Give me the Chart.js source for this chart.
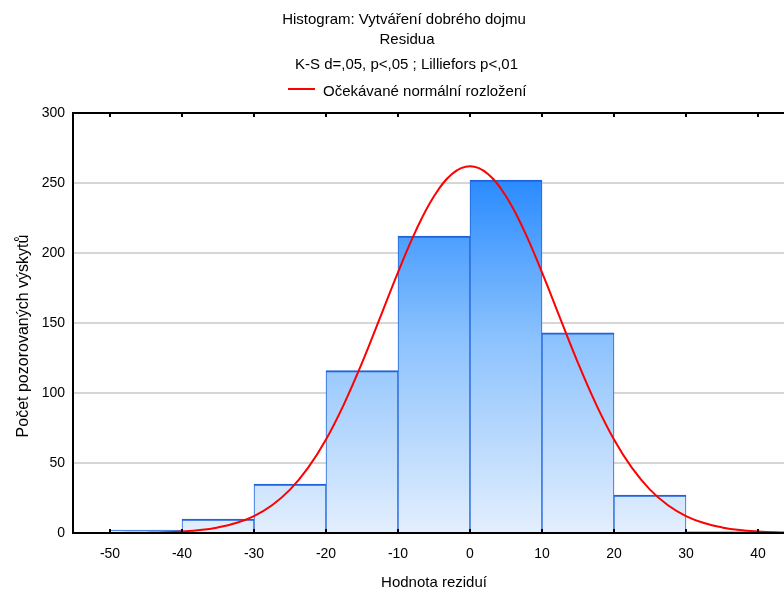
<!DOCTYPE html>
<html><head><meta charset="utf-8">
<script src="https://cdn.jsdelivr.net/npm/chart.js@4/dist/chart.umd.min.js"></script>
<style>html,body{margin:0;padding:0;overflow:hidden;background:#fff}#wrap{width:800px;height:592px}</style>
</head><body><div id="wrap"><canvas id="c" width="800" height="592"></canvas></div>
<script>
const titleLines = ['Histogram: Vytváření dobrého dojmu', 'Residua'];
const subtitleText = 'K-S d=,05, p<,05 ; Lilliefors p<,01';
const legendLabel = 'Očekávané normální rozložení';
const xTitle = 'Hodnota reziduí';
const yTitle = 'Počet pozorovaných výskytů';

const binCenters = [-45, -35, -25, -15, -5, 5, 15, 25, 35];
const binCounts  = [2, 10, 35, 116, 212, 252, 143, 27, 1];

const curveX = [-55, -52.5, -50, -47.5, -45, -42.5, -40, -37.5, -35, -32.5, -30, -27.5, -25, -22.5, -20, -17.5, -15, -12.5, -10, -7.5, -5, -2.5, 0, 2.5, 5, 7.5, 10, 12.5, 15, 17.5, 20, 22.5, 25, 27.5, 30, 32.5, 35, 37.5, 40, 42.5, 45];
const curveY = [0.01, 0.02, 0.05, 0.1, 0.25, 0.5, 1.1, 2.1, 4.0, 7.1, 12.1, 19.8, 31.0, 46.5, 66.8, 92.1, 121.5, 153.7, 186.2, 216.2, 240.5, 256.5, 262, 256.5, 240.5, 216.2, 186.2, 153.7, 121.5, 92.1, 66.8, 46.5, 31.0, 19.8, 12.1, 7.1, 4.0, 2.1, 1.1, 0.5, 0.25];

const xTicks = [-50, -40, -30, -20, -10, 0, 10, 20, 30, 40];
const yTicks = [0, 50, 100, 150, 200, 250, 300];

const FONT = '"Liberation Sans", Arial, sans-serif';

function barGradient(context) {
  const chart = context.chart;
  const area = chart.chartArea;
  if (!area) return '#8fc4fb';
  const y = chart.scales.y;
  const g = chart.ctx.createLinearGradient(0, y.getPixelForValue(252), 0, y.getPixelForValue(0));
  g.addColorStop(0, '#2a8bff');
  g.addColorStop(0.45, '#8cc2fd');
  g.addColorStop(1, '#e3effd');
  return g;
}

const framePlugin = {
  id: 'frame',
  afterDatasetsDraw(chart) {
    const {ctx, chartArea: a, scales: {x}} = chart;
    ctx.save();
    ctx.strokeStyle = '#000';
    ctx.lineWidth = 2;
    ctx.beginPath();
    ctx.moveTo(a.left, a.top); ctx.lineTo(a.right + 5, a.top);
    ctx.moveTo(a.left, a.top - 1); ctx.lineTo(a.left, a.bottom + 1);
    ctx.moveTo(a.left, a.bottom); ctx.lineTo(a.right + 5, a.bottom);
    xTicks.forEach(v => {
      const px = Math.round(x.getPixelForValue(v));
      ctx.moveTo(px, a.bottom); ctx.lineTo(px, a.bottom - 4);
      ctx.moveTo(px, a.top); ctx.lineTo(px, a.top + 4);
    });
    ctx.stroke();
    ctx.restore();
  },
  afterDraw(chart) {
    const ctx = chart.ctx;
    ctx.save();
    ctx.fillStyle = '#000';
    ctx.textBaseline = 'alphabetic';
    ctx.textAlign = 'center';
    ctx.font = '15px ' + FONT;
    ctx.fillText(titleLines[0], 404, 24);
    ctx.fillText(titleLines[1], 407, 44);
    ctx.fillText(subtitleText, 406.5, 69);
    // legend
    ctx.strokeStyle = '#ff0000';
    ctx.lineWidth = 2;
    ctx.beginPath(); ctx.moveTo(288, 89); ctx.lineTo(315, 89); ctx.stroke();
    ctx.textAlign = 'left';
    ctx.fillText(legendLabel, 323, 96);
    // axis titles
    ctx.textAlign = 'center';
    ctx.fillText(xTitle, 434, 587);
    ctx.font = '16px ' + FONT;
    ctx.translate(28, 336);
    ctx.rotate(-Math.PI / 2);
    ctx.fillText(yTitle, 0, 0);
    ctx.restore();
  }
};

new Chart(document.getElementById('c'), {
  type: 'bar',
  data: {
    datasets: [
      {
        type: 'line',
        label: legendLabel,
        data: curveX.map((x, i) => ({x: x, y: curveY[i]})),
        borderColor: '#ff0000',
        borderWidth: 2,
        pointRadius: 0,
        tension: 0.4,
        fill: false,
        order: 0
      },
      {
        type: 'bar',
        label: 'Residua',
        data: binCenters.map((x, i) => ({x: x, y: binCounts[i]})),
        backgroundColor: barGradient,
        borderColor: '#1f62dc',
        borderWidth: {top: 2, left: 1, right: 1, bottom: 0},
        borderSkipped: 'bottom',
        barPercentage: 1,
        categoryPercentage: 1,
        grouped: false,
        order: 1
      }
    ]
  },
  options: {
    responsive: false,
    devicePixelRatio: 1,
    animation: false,
    layout: {padding: {top: 113, left: 0, right: 3, bottom: 0}},
    plugins: {legend: {display: false}, title: {display: false}, tooltip: {enabled: false}},
    scales: {
      x: {
        type: 'linear',
        offset: false,
        min: -55.14,
        max: 45.42,
        afterBuildTicks: s => { s.ticks = xTicks.map(v => ({value: v})); },
        afterFit: s => { s.height = 59; },
        grid: {display: false, drawTicks: false, offset: false},
        border: {display: false},
        ticks: {color: '#000', font: {family: FONT, size: 14}, padding: 13, maxRotation: 0, autoSkip: false}
      },
      y: {
        type: 'linear',
        min: 0,
        max: 300,
        afterBuildTicks: s => { s.ticks = yTicks.map(v => ({value: v})); },
        afterFit: s => { s.width = 73; },
        grid: {
          drawTicks: false,
          lineWidth: 2,
          color: c => (c.tick && (c.tick.value === 0 || c.tick.value === 300)) ? 'rgba(0,0,0,0)' : '#d6d6d6'
        },
        border: {display: false},
        ticks: {color: '#000', font: {family: FONT, size: 14}, padding: 8}
      }
    }
  },
  plugins: [framePlugin]
});
</script>
</body></html>
